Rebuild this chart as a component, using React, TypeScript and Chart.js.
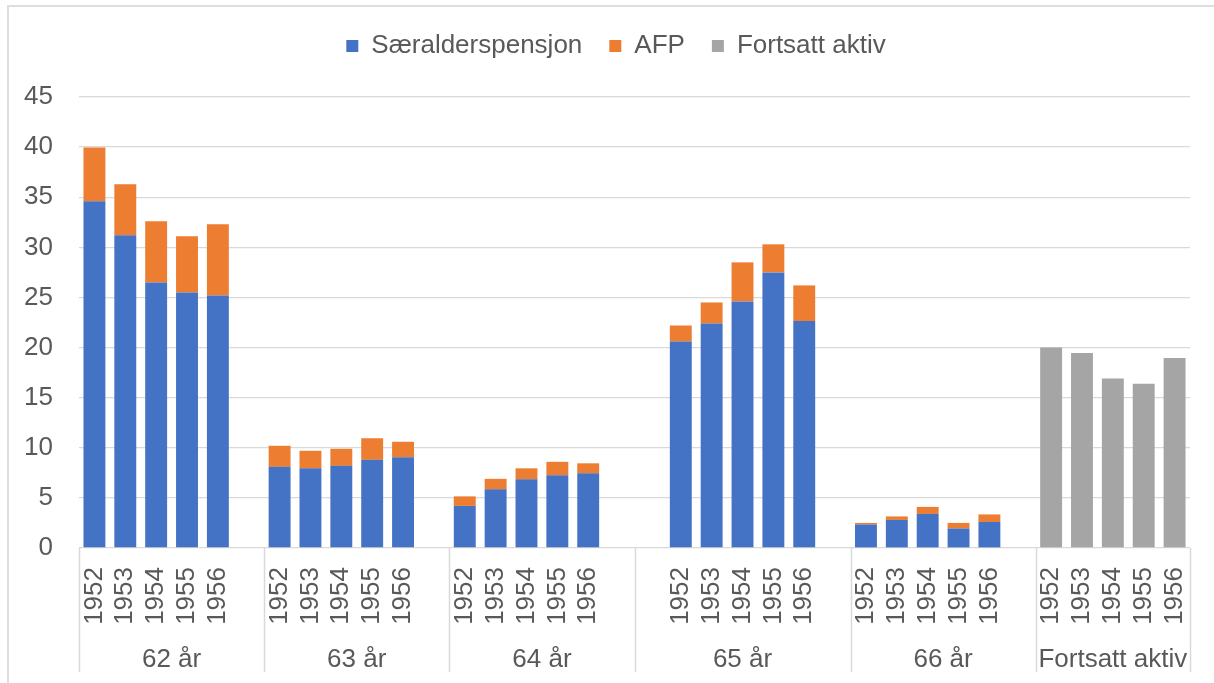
import React, { useEffect, useRef } from "react";
import { Chart, registerables } from "chart.js";

Chart.register(...registerables);

// ---- Data ----
const groups = ["62 år", "63 år", "64 år", "65 år", "66 år", "Fortsatt aktiv"];
const years = ["1952", "1953", "1954", "1955", "1956"];

// Særalderspensjon per age group (62..66 år), cohorts 1952..1956
const saeralderspensjon = [
  [34.6, 31.2, 26.5, 25.5, 25.2],
  [8.1, 7.95, 8.2, 8.8, 9.05],
  [4.2, 5.85, 6.85, 7.25, 7.45],
  [20.6, 22.4, 24.6, 27.5, 22.65],
  [2.35, 2.8, 3.4, 1.95, 2.6],
];
// AFP per age group (62..66 år)
const afp = [
  [5.35, 5.1, 6.1, 5.6, 7.1],
  [2.1, 1.75, 1.7, 2.15, 1.55],
  [0.95, 1.05, 1.1, 1.35, 1.0],
  [1.6, 2.1, 3.9, 2.8, 3.55],
  [0.15, 0.35, 0.7, 0.55, 0.75],
];
// Fortsatt aktiv, cohorts 1952..1956
const fortsattAktiv = [20.0, 19.45, 16.9, 16.4, 18.95];

const yTicks = [0, 5, 10, 15, 20, 25, 30, 35, 40, 45];

// empty category slots around each group (layout of the category axis)
const leadingBlanks = [0, 0, 0, 1, 0, 0];
const trailingBlanks = [1, 1, 1, 1, 1, 0];

const TEXT = "#595959";
const GRID = "#d9d9d9";
const FONT = "'Liberation Sans', Arial, Helvetica, sans-serif";

function buildSlots() {
  const labels: string[] = [];
  const s: (number | null)[] = [];
  const a: (number | null)[] = [];
  const f: (number | null)[] = [];
  const bounds: { start: number; end: number; label: string }[] = [];
  const push = (lab: string, sv: number | null, av: number | null, fv: number | null) => {
    labels.push(lab);
    s.push(sv);
    a.push(av);
    f.push(fv);
  };
  groups.forEach((g, gi) => {
    const start = labels.length;
    for (let i = 0; i < leadingBlanks[gi]; i++) push("", null, null, null);
    years.forEach((y, yi) => {
      if (gi < saeralderspensjon.length) push(y, saeralderspensjon[gi][yi], afp[gi][yi], null);
      else push(y, null, null, fortsattAktiv[yi]);
    });
    for (let i = 0; i < trailingBlanks[gi]; i++) push("", null, null, null);
    bounds.push({ start, end: labels.length - 1, label: g });
  });
  return { labels, s, a, f, bounds };
}

const LEGEND_H = 91;
const LEGEND_SHIFT = 21;

export default function App() {
  const ref = useRef<HTMLCanvasElement>(null);

  useEffect(() => {
    const { labels, s, a, f, bounds } = buildSlots();

    const groupPlugin = {
      id: "groupAxis",
      beforeLayout(chart: any) {
        const lg = chart.legend;
        if (lg && !lg._patched) {
          const orig = lg.fit.bind(lg);
          lg.fit = function () {
            orig();
            this.height = LEGEND_H;
            if (this.lineWidths && this.lineWidths.length) this.lineWidths[0] -= 2 * LEGEND_SHIFT;
          };
          lg._patched = true;
        }
      },
      afterDraw(chart: any) {
        const x = chart.scales.x;
        const area = chart.chartArea;
        const ctx = chart.ctx as CanvasRenderingContext2D;
        const n = labels.length;
        const edge = (i: number) =>
          i <= 0 ? area.left : i >= n ? area.right : (x.getPixelForTick(i - 1) + x.getPixelForTick(i)) / 2;
        ctx.save();
        ctx.strokeStyle = GRID;
        ctx.lineWidth = 1.5;
        const edges = bounds.map((b) => edge(b.start));
        edges.push(edge(n));
        edges.forEach((ex) => {
          ctx.beginPath();
          ctx.moveTo(Math.round(ex) + 0.5, area.bottom);
          ctx.lineTo(Math.round(ex) + 0.5, 672);
          ctx.stroke();
        });
        ctx.fillStyle = TEXT;
        ctx.font = `26px ${FONT}`;
        ctx.textAlign = "center";
        ctx.textBaseline = "middle";
        bounds.forEach((b, i) => {
          const cx = (edges[i] + edges[i + 1]) / 2;
          ctx.fillText(b.label, cx, 660);
        });
        ctx.restore();
      },
    };

    const chart = new Chart(ref.current!, {
      type: "bar",
      data: {
        labels,
        datasets: [
          { label: "Særalderspensjon", data: s, backgroundColor: "#4472C4" },
          { label: "AFP", data: a, backgroundColor: "#ED7D31" },
          { label: "Fortsatt aktiv", data: f, backgroundColor: "#A5A5A5" },
        ],
      },
      options: {
        responsive: false,
        animation: false,
        devicePixelRatio: 1,
        layout: { padding: { top: 6, right: 24, left: 0, bottom: 0 } },
        datasets: { bar: { categoryPercentage: 1, barPercentage: 0.71 } },
        plugins: {
          legend: {
            position: "top",
            labels: {
              color: TEXT,
              font: { size: 26, family: FONT },
              boxWidth: 12,
              boxHeight: 12,
              padding: 27,
            },
          },
          tooltip: { enabled: false },
        },
        scales: {
          x: {
            stacked: true,
            grid: { display: false, drawTicks: false },
            border: { display: false },
            ticks: {
              autoSkip: false,
              maxRotation: 90,
              minRotation: 90,
              padding: 19,
              color: TEXT,
              font: { size: 26, family: FONT },
            },
            afterFit(scale: any) {
              scale.height = 135;
              scale.paddingLeft = 0;
              scale.paddingRight = 0;
            },
          },
          y: {
            stacked: true,
            min: 0,
            max: 45,
            afterBuildTicks(scale: any) {
              scale.ticks = yTicks.map((v) => ({ value: v }));
            },
            grid: { color: GRID, lineWidth: 1.3, drawTicks: false },
            border: { display: false },
            ticks: {
              padding: 26,
              color: TEXT,
              font: { size: 26, family: FONT },
            },
            afterFit(scale: any) {
              scale.width = 79;
            },
          },
        },
      },
      plugins: [groupPlugin],
    } as any);

    return () => chart.destroy();
  }, []);

  return (
    <div
      style={{
        position: "fixed",
        left: 0,
        top: 0,
        width: 1214,
        height: 683,
        background: "#fff",
        overflow: "hidden",
      }}
    >
      <div
        style={{
          position: "absolute",
          left: 7,
          top: 5,
          width: 1400,
          height: 900,
          borderTop: "2px solid #dedede",
          borderLeft: "2px solid #dedede",
        }}
      />
      <canvas ref={ref} width={1214} height={683} style={{ position: "absolute", left: 0, top: 0 }} />
    </div>
  );
}
